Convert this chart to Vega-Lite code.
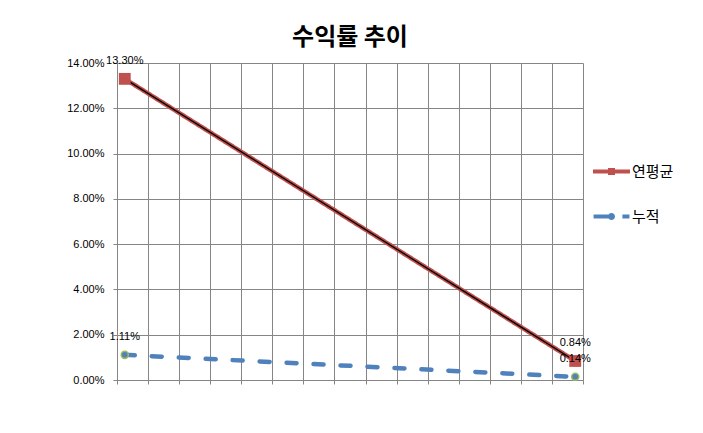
{
  "$schema": "https://vega.github.io/schema/vega-lite/v6.json",
  "width": 466,
  "height": 317,
  "autosize": {"type": "none"},
  "padding": {"left": 117, "top": 63, "right": 120, "bottom": 53},
  "background": "white",
  "title": {"text": "수익률 추이", "font": "Noto Sans CJK KR", "fontSize": 24, "fontWeight": "bold", "color": "black", "anchor": "middle", "offset": 5},
  "config": {
    "view": {"stroke": null},
    "axis": {"gridColor": "#868686", "gridOpacity": 1, "tickColor": "#868686", "domainColor": "#868686", "labelFont": "Liberation Sans", "labelFontSize": 11, "labelColor": "black", "tickSize": 4, "title": null}
  },
  "data": {"values": [
    {"series": "연평균", "idx": 0.5, "value": 0.133},
    {"series": "연평균", "idx": 29.5, "value": 0.0084},
    {"series": "누적", "idx": 0.5, "value": 0.0111},
    {"series": "누적", "idx": 29.5, "value": 0.0014}
  ]},
  "encoding": {
    "x": {"field": "idx", "type": "quantitative", "scale": {"domain": [0, 30], "nice": false, "zero": false},
      "axis": {"values": [0,2,4,6,8,10,12,14,16,18,20,22,24,26,28,30], "labels": false, "grid": true, "ticks": true, "domain": true}},
    "y": {"field": "value", "type": "quantitative", "scale": {"domain": [0, 0.14], "nice": false},
      "axis": {"values": [0,0.02,0.04,0.06,0.08,0.1,0.12,0.14], "format": ".2%", "grid": true, "labelPadding": 9, "domain": true}}
  },
  "layer": [
    {
      "mark": {"type": "line", "strokeWidth": 4.5, "strokeCap": "round"},
      "encoding": {
        "color": {"field": "series", "type": "nominal", "scale": {"domain": ["연평균", "누적"], "range": ["#C0504D", "#4F81BD"]},
          "legend": {"orient": "none", "legendX": 476, "legendY": 90, "title": null, "symbolSize": 1369, "labelFont": "Noto Sans CJK KR", "labelFontSize": 15, "labelColor": "black", "labelOffset": 2, "rowPadding": 18, "padding": 0, "symbolStrokeWidth": 0,
            "encode": {"symbols": {"update": {
              "shape": {"signal": "datum.value === '연평균' ? 'M-1,-0.11H1V0.11H-1Z M-0.19,-0.19H0.19V0.19H-0.19Z' : 'M-0.97,-0.11H0V0.11H-0.97Z M0.19,0 A0.19,0.19 0 1,1 -0.19,0 A0.19,0.19 0 1,1 0.19,0Z M0.59,-0.11H0.97V0.11H0.59Z'"},
              "fill": {"signal": "datum.value === '연평균' ? '#C0504D' : '#4F81BD'"},
              "fillOpacity": {"value": 1},
              "strokeWidth": {"value": 0}
            }}}}},
        "strokeDash": {"field": "series", "type": "nominal", "scale": {"domain": ["연평균", "누적"], "range": [[1, 0], [10, 17]]}, "legend": null}
      }
    },
    {
      "transform": [{"filter": "datum.series === '연평균'"}],
      "mark": {"type": "line", "strokeWidth": 1.3, "color": "black"},
      "encoding": {}
    },
    {
      "transform": [{"filter": "datum.series === '연평균'"}],
      "mark": {"type": "point", "shape": "square", "filled": true, "color": "#C0504D", "size": 140, "opacity": 1},
      "encoding": {}
    },
    {
      "transform": [{"filter": "datum.series === '누적'"}],
      "mark": {"type": "point", "shape": "circle", "filled": true, "fill": "#4F81BD", "stroke": "#9BBB59", "strokeWidth": 1.5, "size": 50, "opacity": 1},
      "encoding": {}
    },
    {
      "mark": {"type": "text", "dy": -18, "font": "Liberation Sans", "fontSize": 11, "color": "black", "baseline": "middle", "align": "center"},
      "encoding": {"text": {"field": "value", "type": "quantitative", "format": ".2%"}}
    }
  ]
}
